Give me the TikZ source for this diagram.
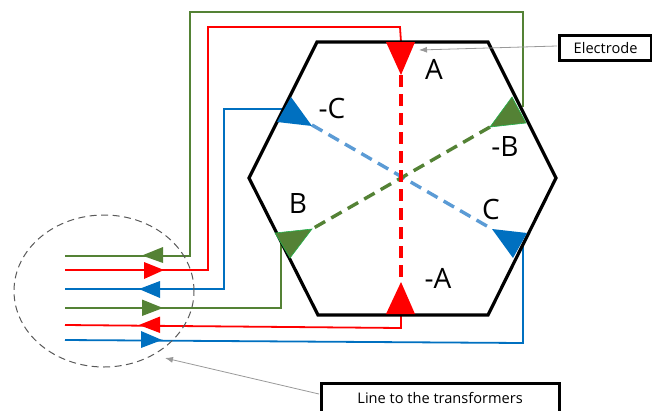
\documentclass[tikz,border=0pt]{standalone}
\usepackage{fontspec}
\setmainfont{Open Sans}
\usetikzlibrary{arrows.meta,shapes.geometric}
\definecolor{wgreen}{HTML}{548235}
\definecolor{wblue}{HTML}{0070C0}
\definecolor{wred}{HTML}{FF0000}
\definecolor{dblue}{HTML}{5B9BD5}
\definecolor{lgreen}{HTML}{22B14C}
\tikzset{
 wire/.style={line width=1.8pt},
 hexa/.style={draw=black,line width=3.2pt,line join=miter},
 phase/.style={line width=3.4pt,dash pattern=on 12pt off 7pt},
 tri/.style={line join=miter},
 lab/.style={font=\fontsize{28}{30}\selectfont,inner sep=0pt},
 callout/.style={draw=black,line width=3.2pt,fill=white,font=\fontsize{14.6}{16}\selectfont,inner sep=0pt,anchor=north west},
 pointer/.style={draw=gray!80,line width=0.8pt,-{Latex[length=8pt,width=6pt]}}
}
\begin{document}
\begin{tikzpicture}[x=1pt,y=-1pt]
\useasboundingbox (0,0) rectangle (652,410);
\clip (0,0) rectangle (652,410);
% named points
\coordinate (hA) at (401,42);
\coordinate (tAa) at (401,75);
\coordinate (tAb) at (401,282);
\coordinate (tCa) at (312,125);
\coordinate (tCb) at (492,229);
\coordinate (tBa) at (490,127);
\coordinate (tBb) at (312,229);
\coordinate (g1) at (65,256);
\coordinate (r1) at (65,270);
\coordinate (b1) at (65,289);
\coordinate (g2) at (65,308);
\coordinate (r2) at (65,325);
\coordinate (b2) at (65,340);
% wires
\draw[wire,wgreen] (g1) -- (190,256) -- (190,12) -- (523,12) -- (523,107);
\draw[wire,wred] (r1) -- (208,270) -- (208,27) -- (400,27) -- (hA);
\draw[wire,wblue] (b1) -- (224,289) -- (224,109) -- (284,109);
\draw[wire,wgreen] (g2) -- (281,308) -- (281,243);
\draw[wire,wred] (r2) -- (401,328) -- (401,314);
\draw[wire,wblue] (b2) -- (523,343) -- (523,246);
% dashed phase lines
\draw[phase,dblue] (tCa) -- (tCb);
\draw[phase,wgreen] (tBa) -- (tBb);
\draw[phase,wred] (tAa) -- (tAb);
% hexagon
\draw[hexa] (317,42) -- (488,42) -- (556,178) -- (488,315) -- (318,315) -- (249,178) -- cycle;
% electrode triangles
\fill[wred,tri] (386,42) -- (415,42) -- (401,75) -- cycle;
\fill[wred,tri] (386,314) -- (415,314) -- (401,282) -- cycle;
\fill[wblue,tri] (291,97) -- (312,126) -- (277,122) -- cycle;
\fill[wblue,tri] (492,229) -- (527,233) -- (513,258) -- cycle;
\filldraw[fill=wgreen,draw=lgreen,line width=0.6pt,tri] (512,97) -- (526,123) -- (490,127) -- cycle;
\filldraw[fill=wgreen,draw=lgreen,line width=0.6pt,tri] (275,233) -- (312,229) -- (290,258) -- cycle;
% line arrowheads
\fill[wgreen] (142,255.5) -- (163,247) -- (163,263) -- cycle;
\fill[wred] (164,270) -- (144,262) -- (144,279) -- cycle;
\fill[wblue] (139,289) -- (160,281) -- (160,298) -- cycle;
\fill[wgreen] (163,308) -- (142,299.5) -- (142,316) -- cycle;
\fill[wred] (139,325) -- (160,316.5) -- (160,333) -- cycle;
\fill[wblue] (162,340) -- (141,331) -- (141,348) -- cycle;
% circle
\node[draw=black!65,line width=1pt,dash pattern=on 7pt off 4.5pt,ellipse,minimum width=180pt,minimum height=152pt,inner sep=0pt] (bundle) at (104,291) {};
% labels
\node[lab] (lA) at (434,69) {A};
\node[lab] (lmC) at (332,108) {-C};
\node[lab] (lmB) at (505,147) {-B};
\node[lab] (lB) at (298,204) {B};
\node[lab] (lC) at (491,209) {C};
\node[lab] (lmA) at (438,278) {-A};
% callouts
\node[callout,minimum width=92pt,minimum height=25pt] (elec) at (558,33.5) {Electrode};
\node[callout,anchor=north west,minimum width=238pt,minimum height=50pt,text depth=20pt] (trans) at (319.5,381.5) {Line to the transformers};
\coordinate (pE) at (419,50);
\coordinate (pT) at (165,358);
\coordinate (sE) at (557,46);
\coordinate (sT) at (319,394);
\draw[pointer] (sE) -- (pE);
\draw[pointer] (sT) -- (pT);
\end{tikzpicture}
\end{document}
